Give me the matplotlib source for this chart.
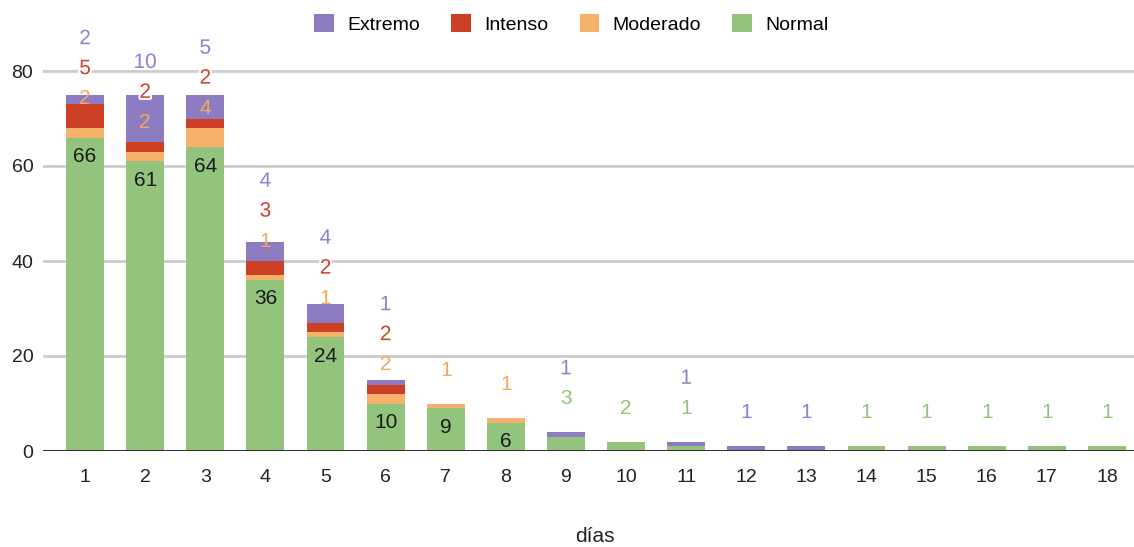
import matplotlib
matplotlib.use("Agg")
import matplotlib.pyplot as plt
import matplotlib.patheffects as pe
from matplotlib.patches import Patch
import numpy as np

plt.rcParams['font.family'] = ['Liberation Sans', 'DejaVu Sans']

# data
dias = list(range(1, 19))
normal   = [66, 61, 64, 36, 24, 10, 9, 6, 3, 2, 1, 0, 0, 1, 1, 1, 1, 1]
moderado = [2, 2, 4, 1, 1, 2, 1, 1, 0, 0, 0, 0, 0, 0, 0, 0, 0, 0]
intenso  = [5, 2, 2, 3, 2, 2, 0, 0, 0, 0, 0, 0, 0, 0, 0, 0, 0, 0]
extremo  = [2, 10, 5, 4, 4, 1, 0, 0, 1, 0, 1, 1, 1, 0, 0, 0, 0, 0]

series = [("Normal", normal, "#93c47d", "#93c47d"),
          ("Moderado", moderado, "#f6b26b", "#f3a95a"),
          ("Intenso", intenso, "#cc4125", "#d0412a"),
          ("Extremo", extremo, "#8e7cc3", "#8a84d0")]

fig = plt.figure(figsize=(11.34, 5.47), dpi=100)
ax = fig.add_axes([43 / 1134, (547 - 451) / 547, 1 - 43 / 1134, 427.5 / 547])

x = np.array(dias)
bottom = np.zeros(len(dias))
for name, vals, col, _ in series:
    ax.bar(x, vals, bottom=bottom, width=0.63, color=col, zorder=2)
    bottom += np.array(vals)

ax.set_xlim(0.3, 18.45)
ax.set_ylim(0, 90)
ax.set_yticks([0, 20, 40, 60, 80])
ax.set_xticks(dias)
ax.tick_params(axis='both', length=0, labelsize=14, colors='#222222')
ax.tick_params(axis='x', pad=13)
ax.tick_params(axis='y', pad=7)
for s in ax.spines.values():
    s.set_visible(False)
ax.grid(axis='y', color='#cccccc', linewidth=2, zorder=0)
ax.axhline(0, color='#333333', linewidth=2.2, zorder=3)
fig.text(0.525, 1 - 536 / 547, "días", ha='center', va='center', fontsize=15, color='#222222')

halo = [pe.withStroke(linewidth=3, foreground='white')]

# data labels
for i in range(len(dias)):
    top = normal[i] + moderado[i] + intenso[i] + extremo[i]
    outside = []
    if normal[i] >= 5:
        ax.text(x[i], normal[i] - 4.0, str(normal[i]), ha='center', va='center',
                fontsize=15, color='#1a1a1a', zorder=4)
        base = min(top + 7, normal[i] + 8.2)
    else:
        base = top + 7
        if normal[i] > 0:
            outside.append((normal[i], series[0][3]))
    for name, vals, col, tcol in series[1:]:
        if vals[i] > 0:
            outside.append((vals[i], tcol))
    for j, (v, tcol) in enumerate(outside):
        ax.text(x[i], base + j * 6.3, str(v), ha='center', va='center',
                fontsize=15, color=tcol, zorder=5,
                path_effects=halo if j > 0 else None)

handles = [Patch(facecolor=c, edgecolor='none', label=n) for n, _, c, _ in series[::-1]]
fig.legend(handles=handles, loc='center', bbox_to_anchor=(0.504, 0.956), ncol=4,
           frameon=False, fontsize=14, handlelength=1.0, handleheight=1.0,
           handletextpad=0.7, columnspacing=1.6)

fig.savefig("out.png", dpi=100)
